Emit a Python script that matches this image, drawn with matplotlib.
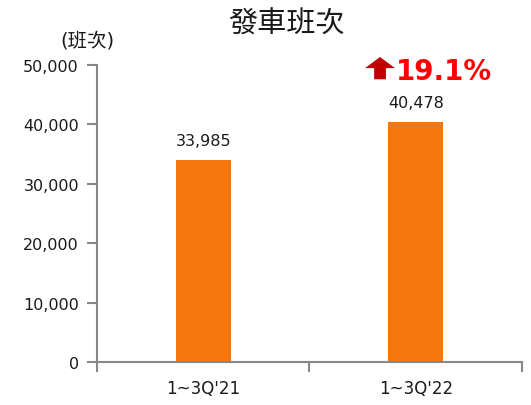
import numpy as np
import matplotlib.pyplot as plt

plt.rcParams['font.family'] = ['DejaVu Sans', 'Noto Sans CJK TC']

periods = ["1~3Q'21", "1~3Q'22"]
trips = [33985, 40478]
growth = "19.1%"
yticks = [0, 10000, 20000, 30000, 40000, 50000]

fig = plt.figure(figsize=(5.31, 4.06), dpi=100)
ax = fig.add_axes([0.1827, 0.106, 0.8003, 0.7314])

x = np.arange(len(periods))
ax.bar(x, trips, width=0.26, color='#F5780F', zorder=2)
for xi, v in zip(x, trips):
    ax.text(xi, v + 2000, f'{v:,}', ha='center', va='bottom', fontsize=11.5, color='#1a1a1a')

ax.set_xlim(-0.5, 1.5)
ax.set_ylim(0, 50000)
ax.set_yticks(yticks)
ax.set_yticklabels([f'{t:,}' for t in yticks], fontsize=11.5, color='#1a1a1a')
ax.set_xticks(x)
ax.set_xticklabels(periods, fontsize=12, color='#1a1a1a')
ax.tick_params(axis='x', length=0, pad=12)
ax.set_xticks([-0.5, 0.5, 1.5], minor=True)
ax.tick_params(axis='x', which='minor', length=7, color='#888888', width=1.5)
ax.tick_params(axis='y', length=7, color='#888888', width=1.5, pad=6)

for s in ['top', 'right']:
    ax.spines[s].set_visible(False)
for s in ['left', 'bottom']:
    ax.spines[s].set_color('#888888')
    ax.spines[s].set_linewidth(1.5)

fig.text(0.54, 0.94, '發車班次', ha='center', va='center', fontsize=21,
         family=['Noto Sans CJK TC'], fontweight='light', color='#1a1a1a')
fig.text(0.165, 0.9, '(班次)', ha='center', va='center', fontsize=14,
         family=['DejaVu Sans', 'Noto Sans CJK TC'], color='#1a1a1a')

# growth callout
ax.annotate('', xy=(0.832, 51350), xytext=(0.832, 47600),
            arrowprops=dict(arrowstyle='simple,head_width=2.15,head_length=0.8,tail_width=0.85',
                            color='#C00000', lw=0, shrinkA=0, shrinkB=0),
            annotation_clip=False)
ax.text(0.905, 49000, growth, ha='left', va='center', fontsize=20, fontweight='bold',
        color='#FF0000', clip_on=False)

fig.savefig('out.png', dpi=100)
